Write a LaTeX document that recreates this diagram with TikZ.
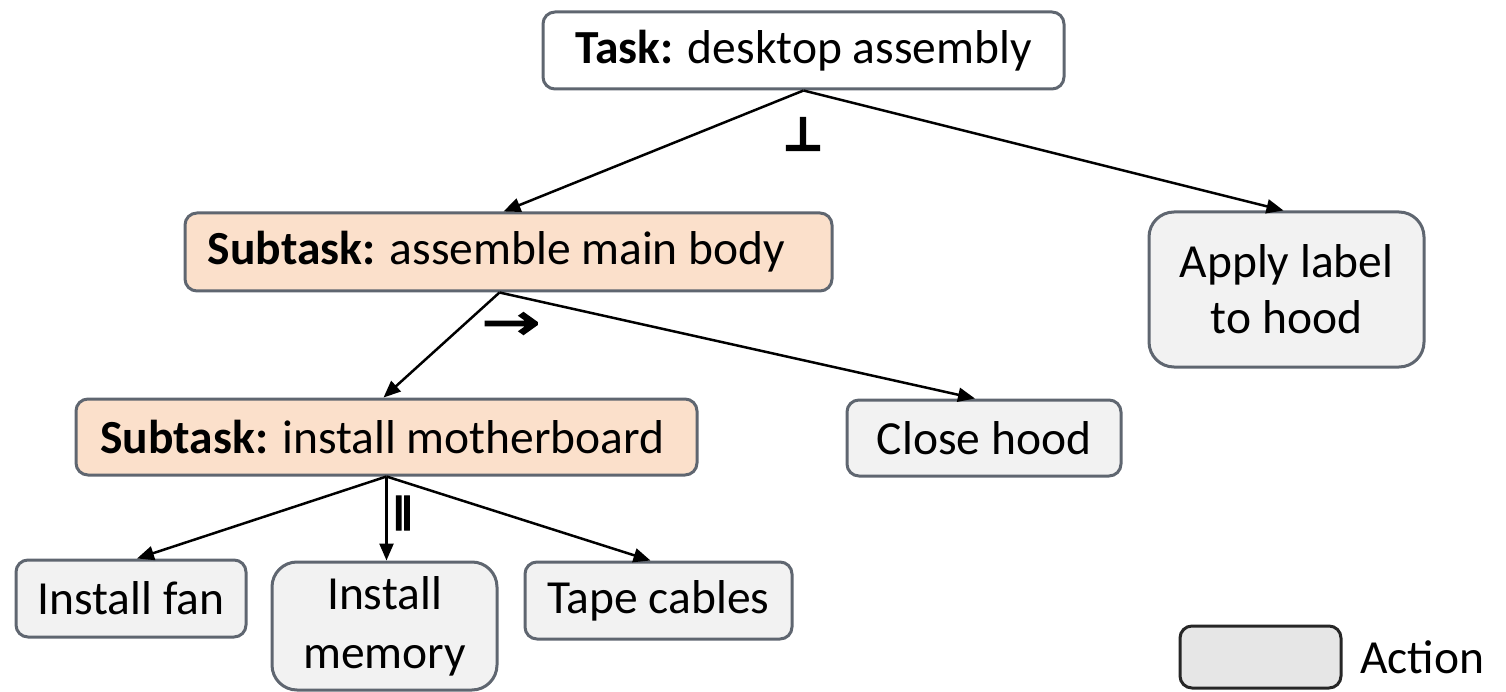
\documentclass[tikz,border=0pt]{standalone}
\usepackage{fontspec}
\setmainfont{Carlito}
\newfontfamily\symfont[FakeBold=3]{DejaVu Sans}
\newfontfamily\heavysym[FakeBold=8]{DejaVu Sans}
\usetikzlibrary{arrows.meta}
\definecolor{edgegray}{HTML}{5F6670}
\definecolor{peach}{HTML}{FBE0CB}
\definecolor{actfill}{HTML}{F2F2F2}
\definecolor{legfill}{HTML}{E6E6E6}
\begin{document}
\begin{tikzpicture}[x=1pt,y=-1pt,
  box/.style={draw=edgegray, line width=3pt, rounded corners=12pt, inner sep=0pt,
    align=center, font=\fontsize{47.5}{56}\selectfont},
  taskbox/.style={box, fill=white},
  subbox/.style={box, fill=peach},
  actbox/.style={box, fill=actfill},
  link/.style={line width=2.5pt, -{Triangle[length=17pt,width=14pt]}},
  sym/.style={inner sep=0pt},
]
\useasboundingbox (0,0) rectangle (1506,692);

% tree nodes
\node[taskbox, minimum width=521pt, minimum height=77pt] (task) at (803.5,50.5) {\textbf{Task:} desktop assembly};
\node[subbox, minimum width=647pt, minimum height=78pt] (body) at (508.5,252) {\textbf{Subtask:} assemble main body\hspace{24pt}};
\node[actbox, rounded corners=25pt, minimum width=275pt, minimum height=155pt] (label) at (1286.5,289.5) {Apply label\\to hood};
\node[subbox, minimum width=621pt, minimum height=76pt] (mobo) at (386.5,437) {\textbf{Subtask:} install motherboard\,};
\node[actbox, minimum width=274pt, minimum height=76pt] (hood) at (984,438) {Close hood};
\node[actbox, minimum width=230pt, minimum height=77pt] (fan) at (131,598.5) {Install fan};
\node[actbox, rounded corners=25pt, minimum width=225pt, minimum height=128pt,
  font=\fontsize{47.5}{59}\selectfont] (mem) at (384.5,626) {Install\\memory};
\node[actbox, minimum width=267pt, minimum height=77pt] (tape) at (658.5,600.5) {Tape cables};

% connectors
\draw[link] (task.south) -- ([xshift=-5pt]body.north);
\draw[link] (task.south) -- ([xshift=-3pt]label.north);
\draw[link] ([xshift=-9pt]body.south) -- ([xshift=-3pt]mobo.north);
\draw[link] ([xshift=-9pt]body.south) -- ([xshift=-9pt]hood.north);
\draw[link] (mobo.south) -- ([xshift=6pt]fan.north);
\draw[link] (mobo.south) -- ([xshift=2pt]mem.north);
\draw[link] (mobo.south) -- ([xshift=-8pt]tape.north);

% ordering symbols
\node[sym, font=\heavysym\fontsize{44}{44}\selectfont] (perp) at (803,134) {⊥};
\node[sym, xscale=1.4, font=\symfont\fontsize{50}{50}\selectfont] (seq) at (511,326) {→};
\node[sym, xscale=1.5, font=\symfont\fontsize{34}{34}\selectfont] (par) at (403,513) {‖};

% legend
\node[draw=black!85, line width=3pt, rounded corners=12pt, fill=legfill,
  minimum width=161pt, minimum height=62pt] (legbox) at (1260.5,657) {};
\node[anchor=west, inner sep=0pt, font=\fontsize{47.5}{56}\selectfont] (legtext) at (1360,657) {Action};
\end{tikzpicture}
\end{document}
